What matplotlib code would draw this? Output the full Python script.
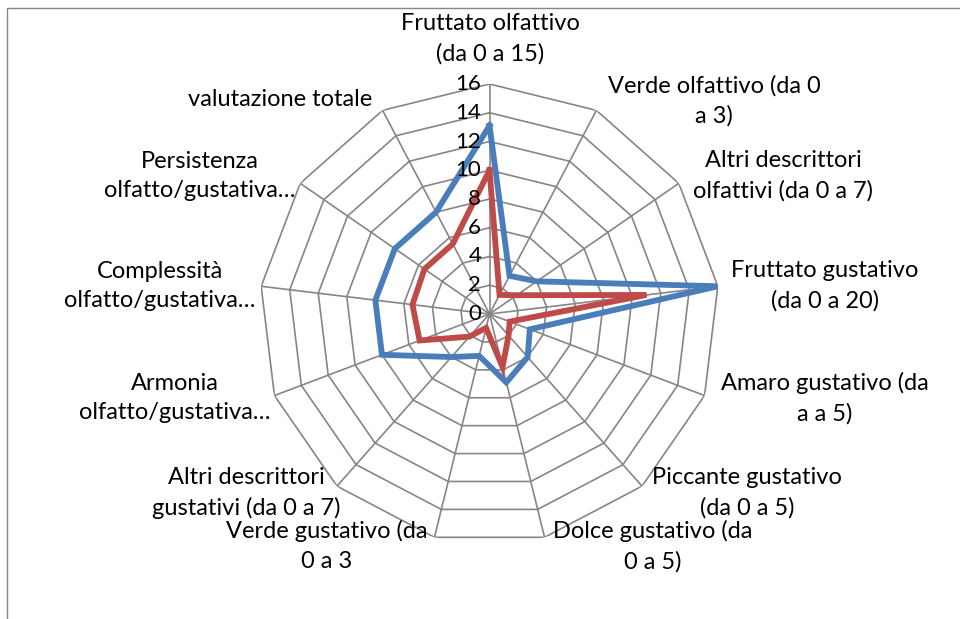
import numpy as np
import matplotlib
matplotlib.use("Agg")
import matplotlib.pyplot as plt
from matplotlib.patches import Rectangle

categories = [
    "Fruttato olfattivo\n(da 0 a 15)",
    "Verde olfattivo (da 0\na 3)",
    "Altri descrittori\nolfattivi (da 0 a 7)",
    "Fruttato gustativo\n(da 0 a 20)",
    "Amaro gustativo (da\na a 5)",
    "Piccante gustativo\n(da 0 a 5)",
    "Dolce gustativo (da\n0 a 5)",
    "Verde gustativo (da\n0 a 3",
    "Altri descrittori\ngustativi (da 0 a 7)",
    "Armonia\nolfatto/gustativa…",
    "Complessità\nolfatto/gustativa…",
    "Persistenza\nolfatto/gustativa…",
    "valutazione totale",
]
series_blue = [13.1, 3, 4, 16, 3, 4, 4.9, 3, 4, 8, 8, 8, 8]
series_red = [10, 1.5, 2.3, 11, 1.5, 2, 3.8, 1, 2.1, 5.2, 5.4, 5.5, 5.5]
tick_values = [0, 2, 4, 6, 8, 10, 12, 14, 16]

# label centre positions (pixels from top-left)
label_pos = [(490, 39), (714, 101), (783, 176), (825, 286), (825, 398),
             (747, 493), (653, 546), (327, 546), (246, 493), (175, 398),
             (160, 286), (200, 176), (280, 100)]

W, H = 960, 619
plt.rcParams['font.family'] = ['Lato', 'DejaVu Sans']
fig = plt.figure(figsize=(W / 100, H / 100), dpi=100)
fig.patch.set_facecolor('white')

# chart border
fig.patches.append(Rectangle((7 / W, -0.1), 1.2, 1 - 8 / H + 0.1,
                             transform=fig.transFigure, fill=False,
                             edgecolor='#868686', lw=1.0))

cx, cy, R = 489.5, 314, 230
ax = fig.add_axes([(cx - R) / W, (H - cy - R) / H, 2 * R / W, 2 * R / H],
                  projection='polar')
ax.set_theta_zero_location('N')
ax.set_theta_direction(-1)
ax.set_ylim(0, 16)
ax.grid(False)
ax.set_xticks([])
ax.set_yticks([])
ax.spines['polar'].set_visible(False)
ax.patch.set_alpha(0)

n = len(categories)
theta = np.arange(n) * 2 * np.pi / n
theta_c = np.append(theta, theta[0])

grid_col = '#868686'
for r in tick_values[1:]:
    ax.plot(theta_c, [r] * (n + 1), color=grid_col, lw=1.2, zorder=1)
for t in theta:
    ax.plot([t, t], [0, 16], color=grid_col, lw=1.2, zorder=1)

ax.plot(theta_c, series_blue + [series_blue[0]], color='#4A7EBB', lw=4.2,
        solid_joinstyle='miter', zorder=3)
ax.plot(theta_c, series_red + [series_red[0]], color='#BE4B48', lw=4.2,
        solid_joinstyle='miter', zorder=3)

for v in tick_values:
    ax.annotate(str(v), xy=(0, v), xytext=(-6, 0), textcoords='offset points',
                ha='right', va='center', fontsize=16, color='black')

for lab, (x, y) in zip(categories, label_pos):
    fig.text(x / W, 1 - y / H, lab, ha='center', va='center', fontsize=17,
             linespacing=1.5, color='black')

fig.savefig('out.png', dpi=100)
